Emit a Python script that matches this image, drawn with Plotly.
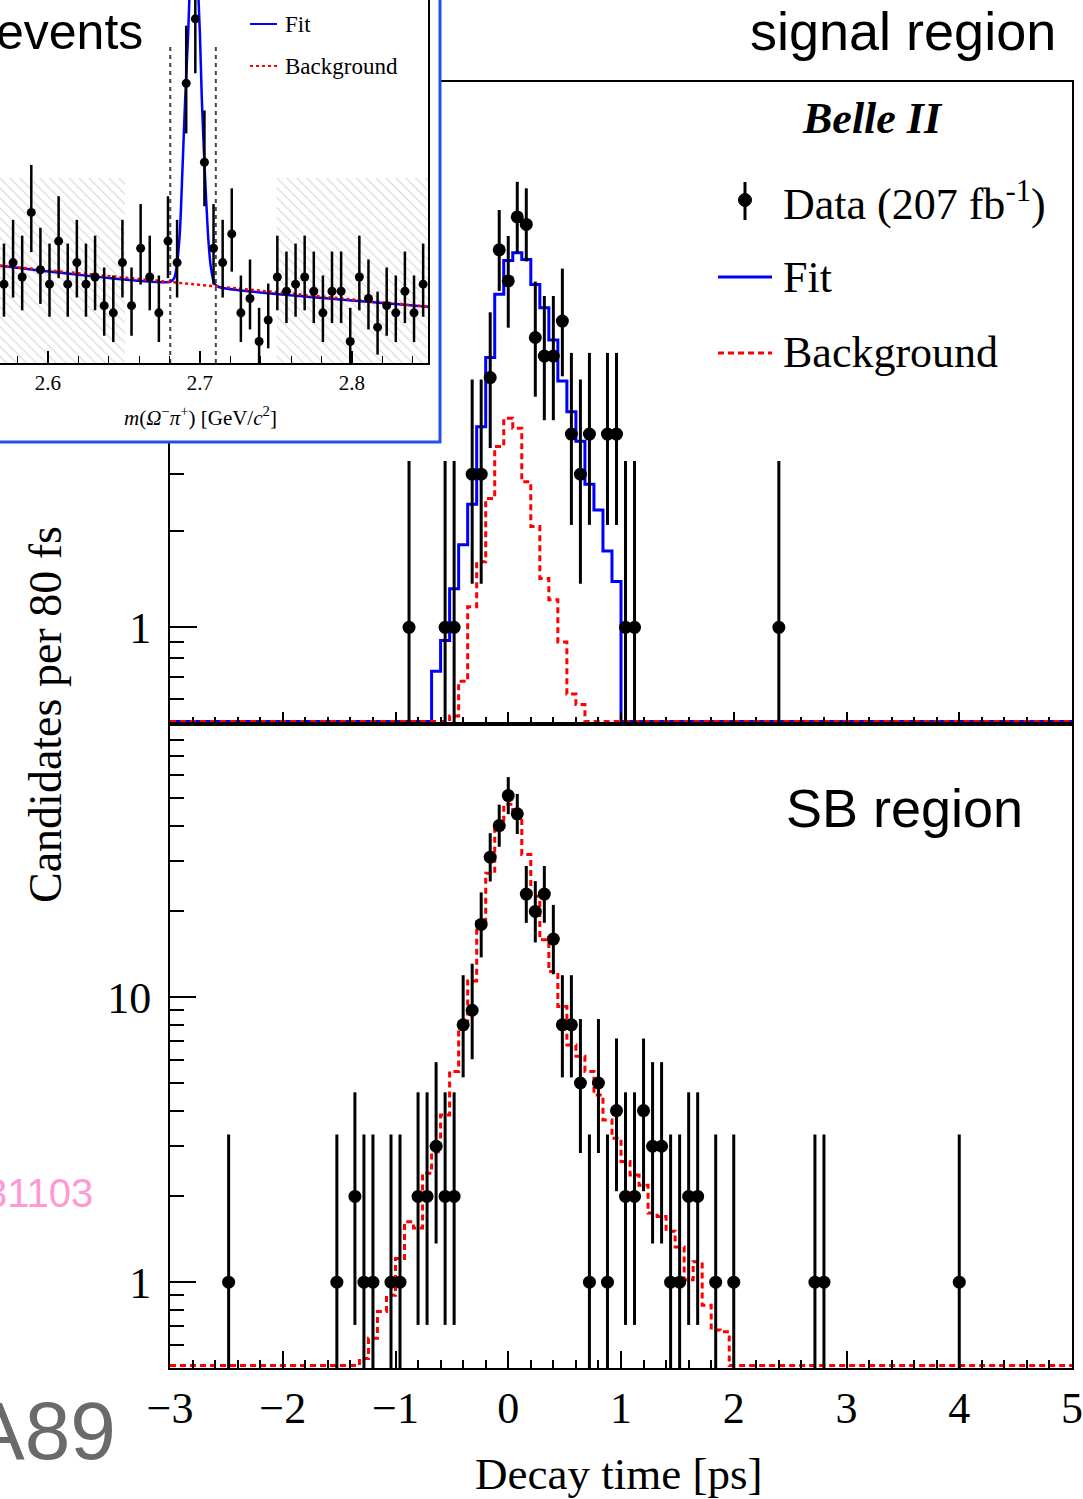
import math
import plotly.graph_objects as go

W, H = 1083, 1499

# ---------------- data: signal region (decay time bin centres [ps], candidates) ----------------
sig_time = [-0.88, -0.56, -0.48, -0.32, -0.24, -0.16, -0.08, 0.00, 0.08, 0.16, 0.24,
            0.32, 0.40, 0.48, 0.56, 0.64, 0.72, 0.88, 0.96, 1.04, 1.12, 2.40]
sig_counts = [1, 1, 1, 3, 3, 6, 15, 12, 19, 18, 8, 7, 7, 9, 4, 3, 4, 4, 4, 1, 1, 1]

# fit histogram (signal region)
fit_time = [-0.64, -0.56, -0.48, -0.40, -0.32, -0.24, -0.16, -0.08, 0.00, 0.08, 0.16,
            0.24, 0.32, 0.40, 0.48, 0.56, 0.64, 0.72, 0.80, 0.88, 0.96]
fit_vals = [0.73, 0.91, 1.32, 1.81, 2.42, 4.22, 6.93, 10.9, 13.9, 14.7, 14.0,
            11.7, 9.9, 7.85, 5.85, 4.70, 3.80, 2.79, 2.32, 1.73, 1.39]

# background histogram (signal region)
sigbkg_time = [-0.48, -0.40, -0.32, -0.24, -0.16, -0.08, 0.00, 0.08, 0.16, 0.24, 0.32,
               0.40, 0.48, 0.56, 0.64]
sigbkg_vals = [0.53, 0.68, 1.16, 1.60, 2.52, 3.66, 4.48, 4.17, 2.84, 2.06, 1.42,
               1.22, 0.90, 0.62, 0.575]

# ---------------- data: sideband region ----------------
sb_time = [-2.48, -1.52, -1.36, -1.28, -1.20, -1.04, -0.96, -0.80, -0.72, -0.64, -0.56,
           -0.48, -0.40, -0.32, -0.24, -0.16, -0.08, 0.00, 0.08, 0.16, 0.24, 0.32,
           0.40, 0.48, 0.56, 0.64, 0.72, 0.80, 0.88, 0.96, 1.04, 1.12, 1.20, 1.28,
           1.36, 1.44, 1.52, 1.60, 1.68, 1.84, 2.00, 2.72, 2.80, 4.00]
sb_counts = [1, 1, 2, 1, 1, 1, 1, 2, 2, 3, 2,
             2, 8, 9, 18, 31, 40, 51, 44, 23, 20, 23,
             16, 8, 8, 5, 1, 5, 1, 4, 2, 2, 4, 3,
             3, 1, 1, 2, 2, 1, 1, 1, 1, 1]

sbbkg_time = [-1.28, -1.20, -1.12, -1.04, -0.96, -0.88, -0.80, -0.72, -0.64, -0.56, -0.48,
              -0.40, -0.32, -0.24, -0.16, -0.08, 0.00, 0.08, 0.16, 0.24, 0.32, 0.40,
              0.48, 0.56, 0.64, 0.72, 0.80, 0.88, 0.96, 1.04, 1.12, 1.20, 1.28, 1.36,
              1.44, 1.52, 1.60, 1.68, 1.76, 1.84, 1.92]
sbbkg_vals = [0.54, 0.636, 0.79, 0.90, 1.21, 1.63, 1.55, 2.41, 2.87, 3.86, 5.49,
              7.87, 11.4, 18.4, 27.2, 39.4, 47.5, 42.8, 31.7, 22.6, 15.9, 12.3,
              9.28, 6.8, 6.2, 5.49, 4.54, 3.71, 3.2, 2.65, 2.38, 2.19, 1.75, 1.70,
              1.51, 1.33, 1.02, 1.18, 0.83, 0.68, 0.67]

# ---------------- inset: m(Omega- pi+) ----------------
inset_mass = [2.571, 2.577, 2.583, 2.589, 2.595, 2.601, 2.607, 2.613, 2.619, 2.625,
              2.631, 2.637, 2.643, 2.649, 2.655, 2.661, 2.667, 2.673, 2.679, 2.685,
              2.691, 2.697, 2.703, 2.709, 2.715, 2.721, 2.727, 2.733, 2.739, 2.745,
              2.751, 2.757, 2.763, 2.769, 2.775, 2.781, 2.787, 2.793, 2.799, 2.805,
              2.811, 2.817, 2.823, 2.829, 2.835, 2.841, 2.847]
inset_counts = [21, 24, 22, 31, 23, 21, 27, 21, 24, 21, 22, 18, 17, 24, 18, 26, 22, 17,
                27, 24, 49, 58, 38, 26, 24, 28, 17, 19, 13, 16, 22, 20, 21, 22, 20, 17,
                20, 20, 13, 22, 19, 15, 18, 17, 20, 17, 21]
inset_fit_mass = [2.5684, 2.6800, 2.6830, 2.6847, 2.6868, 2.6886, 2.6903, 2.6923, 2.6940,
                  2.6960, 2.6980, 2.7000, 2.7013, 2.7031, 2.7053, 2.7072, 2.7095, 2.7125, 2.8502]
inset_fit_vals = [23.57, 21.30, 21.8, 23.43, 28.09, 37.38, 46.68, 55.98, 66.0,
                  72.0, 66.0, 55.98, 46.68, 37.38, 28.09, 23.43, 21.1, 20.6, 17.85]
inset_bkg_mass = [2.5684, 2.8502]
inset_bkg_vals = [23.57, 17.85]
signal_window = [2.6805, 2.7105]
signal_window_top = 54.6
sideband_left = [2.55, 2.6507]
sideband_right = [2.7505, 2.8502]
sideband_top = 35.8

X_TICKS = [-3, -2, -1, 0, 1, 2, 3, 4, 5]
X_TICKTEXT = ["\u22123", "\u22122", "\u22121", "0", "1", "2", "3", "4", "5"]
BIN_W = 0.08
T_MIN, T_MAX = -3.0, 5.0

SERIF = "Liberation Serif"
SANS = "Liberation Sans"


def px(x):
    return x / W


def py(y):
    return 1 - y / H


def pois_cdf(n, mu):
    term = math.exp(-mu)
    s = term
    for k in range(1, n + 1):
        term *= mu / k
        s += term
    return s


def garwood(n, cl=0.682689):
    a = (1 - cl) / 2
    lo, hi = float(n), n + 10 * math.sqrt(n + 1) + 10
    for _ in range(80):
        mid = (lo + hi) / 2
        if pois_cdf(n, mid) > a:
            lo = mid
        else:
            hi = mid
    up = (lo + hi) / 2
    if n == 0:
        low = 0.0
    else:
        lo, hi = 0.0, float(n)
        for _ in range(80):
            mid = (lo + hi) / 2
            if pois_cdf(n - 1, mid) > 1 - a:
                lo = mid
            else:
                hi = mid
        low = (lo + hi) / 2
    return low, up


def errs(counts):
    plus, minus = [], []
    for n in counts:
        lo, up = garwood(n)
        plus.append(up - n)
        minus.append(n - lo)
    return plus, minus


def step_arrays(times, vals, floor):
    nb = int(round((T_MAX - T_MIN) / BIN_W))
    lookup = {round(t, 2): v for t, v in zip(times, vals)}
    xs, ys = [], []
    for i in range(nb):
        c = round(T_MIN + BIN_W * (i + 0.5), 2)
        v = lookup.get(c, 0.0)
        xs.append(T_MIN + BIN_W * i)
        ys.append(max(v, floor))
    xs.append(T_MAX)
    ys.append(ys[-1])
    return xs, ys


# panel geometry (pixels)
L, R = 170, 1072
TOP1, BOT1 = 82, 724
TOP2, BOT2 = 724, 1368
top_range = [math.log10(0.5), math.log10(50)]
bot_range = [math.log10(0.5), math.log10(0.5) + (BOT2 - TOP2) / 285.0]

floor1 = 10 ** (top_range[0] + 2.5 * (top_range[1] - top_range[0]) / (BOT1 - TOP1))
floor2 = 10 ** (bot_range[0] + 2.5 * (bot_range[1] - bot_range[0]) / (BOT2 - TOP2))

fig = go.Figure()

# ---- top panel: signal region ----
fx, fy = step_arrays(fit_time, fit_vals, floor1)
fig.add_trace(go.Scatter(x=fx, y=fy, mode="lines", line=dict(color="#0000ff", width=3, shape="hv"),
                         xaxis="x", yaxis="y", showlegend=False, hoverinfo="skip"))
bx, by = step_arrays(sigbkg_time, sigbkg_vals, floor1)
fig.add_trace(go.Scatter(x=bx, y=by, mode="lines",
                         line=dict(color="#ff0000", width=3, shape="hv", dash="6px,4px"),
                         xaxis="x", yaxis="y", showlegend=False, hoverinfo="skip"))
ep, em = errs(sig_counts)
fig.add_trace(go.Scatter(x=sig_time, y=sig_counts, mode="markers",
                         marker=dict(color="black", size=13),
                         error_y=dict(type="data", symmetric=False, array=ep, arrayminus=em,
                                      color="black", thickness=3, width=0),
                         xaxis="x", yaxis="y", showlegend=False))

# ---- bottom panel: sideband region ----
sx, sy = step_arrays(sbbkg_time, sbbkg_vals, floor2)
fig.add_trace(go.Scatter(x=sx, y=sy, mode="lines",
                         line=dict(color="#ff0000", width=3, shape="hv", dash="6px,4px"),
                         xaxis="x2", yaxis="y2", showlegend=False, hoverinfo="skip"))
ep2, em2 = errs(sb_counts)
fig.add_trace(go.Scatter(x=sb_time, y=sb_counts, mode="markers",
                         marker=dict(color="black", size=13),
                         error_y=dict(type="data", symmetric=False, array=ep2, arrayminus=em2,
                                      color="black", thickness=3, width=0),
                         xaxis="x2", yaxis="y2", showlegend=False))

# ---- cover subplot (white box behind inset) ----
fig.add_trace(go.Scatter(x=[], y=[], xaxis="x3", yaxis="y3", showlegend=False, hoverinfo="skip"))

# ---- inset ----
inset_y_range = [10, 10 + 363 / 7.17]
for sb in (sideband_left, sideband_right):
    fig.add_trace(go.Scatter(x=[sb[0], sb[1], sb[1], sb[0], sb[0]],
                             y=[inset_y_range[0], inset_y_range[0], sideband_top, sideband_top, inset_y_range[0]],
                             mode="lines", fill="toself", line=dict(width=0),
                             fillcolor="rgba(0,0,0,0)",
                             fillpattern=dict(shape="\\", fgcolor="#d4d4d4", bgcolor="white", size=7, solidity=0.15),
                             xaxis="x4", yaxis="y4", showlegend=False, hoverinfo="skip"))
for m in signal_window:
    fig.add_trace(go.Scatter(x=[m, m], y=[inset_y_range[0], signal_window_top], mode="lines",
                             line=dict(color="#444444", width=2, dash="4px,4px"),
                             xaxis="x4", yaxis="y4", showlegend=False, hoverinfo="skip"))
fig.add_trace(go.Scatter(x=inset_fit_mass, y=inset_fit_vals, mode="lines",
                         line=dict(color="#0000ff", width=2.5, shape="spline", smoothing=0.6),
                         xaxis="x4", yaxis="y4", showlegend=False, hoverinfo="skip"))
fig.add_trace(go.Scatter(x=inset_bkg_mass, y=inset_bkg_vals, mode="lines",
                         line=dict(color="#ff0000", width=2.5, dash="dot"),
                         xaxis="x4", yaxis="y4", showlegend=False, hoverinfo="skip"))
ip, im = errs(inset_counts)
fig.add_trace(go.Scatter(x=inset_mass, y=inset_counts, mode="markers",
                         marker=dict(color="black", size=9),
                         error_y=dict(type="data", symmetric=False, array=ip, arrayminus=im,
                                      color="black", thickness=2.5, width=0),
                         xaxis="x4", yaxis="y4", showlegend=False))

axis_common = dict(showgrid=False, zeroline=False, showline=True, linecolor="black", linewidth=2)

fig.update_layout(
    width=W, height=H, autosize=False,
    margin=dict(l=0, r=0, t=0, b=0),
    paper_bgcolor="white", plot_bgcolor="white",
    template=None,
    xaxis=dict(domain=[px(L), px(R)], anchor="y", range=[T_MIN, T_MAX], mirror=True,
               ticks="inside", ticklen=12, tickwidth=2, tickcolor="black",
               tickvals=X_TICKS, showticklabels=False,
               minor=dict(ticks="inside", dtick=0.2, tick0=0, ticklen=7, tickwidth=1.5, tickcolor="black"),
               **axis_common),
    yaxis=dict(domain=[py(BOT1), py(TOP1)], anchor="x", type="log", range=top_range, mirror=True,
               ticks="inside", ticklen=27, tickwidth=2, tickcolor="black",
               tickvals=[1, 10], ticktext=["1", "10"],
               tickfont=dict(family=SERIF, size=44, color="black"), ticklabelstandoff=8,
               minor=dict(ticks="inside", tickvals=[0.6, 0.7, 0.8, 0.9, 2, 3, 4, 5, 6, 7, 8, 9, 20, 30, 40, 50],
                          ticklen=14, tickwidth=1.5, tickcolor="black"),
               **axis_common),
    xaxis2=dict(domain=[px(L), px(R)], anchor="y2", range=[T_MIN, T_MAX], mirror=True,
                ticks="inside", ticklen=17, tickwidth=2, tickcolor="black",
                tickvals=X_TICKS, ticktext=X_TICKTEXT,
                tickfont=dict(family=SERIF, size=44, color="black"), ticklabelstandoff=0,
                minor=dict(ticks="inside", dtick=0.2, tick0=0, ticklen=8, tickwidth=1.5, tickcolor="black"),
                **axis_common),
    yaxis2=dict(domain=[py(BOT2), py(TOP2)], anchor="x2", type="log", range=bot_range, mirror=True,
                ticks="inside", ticklen=26, tickwidth=2, tickcolor="black",
                tickvals=[1, 10], ticktext=["1", "10"],
                tickfont=dict(family=SERIF, size=44, color="black"), ticklabelstandoff=8,
                minor=dict(ticks="inside",
                           tickvals=[0.6, 0.7, 0.8, 0.9, 2, 3, 4, 5, 6, 7, 8, 9, 20, 30, 40, 50, 60, 70, 80, 90],
                           ticklen=14, tickwidth=1.5, tickcolor="black"),
                **axis_common),
    xaxis3=dict(domain=[0, px(440)], anchor="y3", visible=False, range=[0, 1]),
    yaxis3=dict(domain=[py(442), 1], anchor="x3", visible=False, range=[0, 1]),
    xaxis4=dict(domain=[0, px(428)], anchor="y4", range=[2.5684, 2.8502],
                ticks="inside", ticklen=12, tickwidth=1.5, tickcolor="black",
                tickvals=[2.6, 2.7, 2.8], ticktext=["2.6", "2.7", "2.8"],
                tickfont=dict(family=SERIF, size=21, color="black"), ticklabelstandoff=0,
                minor=dict(ticks="inside", dtick=0.02, tick0=2.6, ticklen=7, tickwidth=1.2, tickcolor="black"),
                **axis_common),
    yaxis4=dict(domain=[py(363), 1], anchor="x4", range=inset_y_range, side="right",
                ticks="", showticklabels=False, **axis_common),
)

shapes = []
# inset border
shapes.append(dict(type="rect", xref="paper", yref="paper", x0=px(-5), x1=px(440), y0=py(442), y1=py(-5),
                   line=dict(color="#2250e8", width=3), fillcolor="rgba(0,0,0,0)", layer="above"))
# inset legend lines
shapes.append(dict(type="line", xref="paper", yref="paper", x0=px(250), x1=px(277), y0=py(24), y1=py(24),
                   line=dict(color="#0000ff", width=2)))
shapes.append(dict(type="line", xref="paper", yref="paper", x0=px(250), x1=px(277), y0=py(66), y1=py(66),
                   line=dict(color="#ff0000", width=2, dash="dot")))
# main legend
shapes.append(dict(type="line", xref="paper", yref="paper", x0=px(745), x1=px(745), y0=py(182), y1=py(220),
                   line=dict(color="black", width=3)))
shapes.append(dict(type="circle", xref="paper", yref="paper", x0=px(738.5), x1=px(751.5), y0=py(206.5), y1=py(193.5),
                   line=dict(color="black", width=1), fillcolor="black"))
shapes.append(dict(type="line", xref="paper", yref="paper", x0=px(718), x1=px(772), y0=py(277), y1=py(277),
                   line=dict(color="#0000ff", width=3)))
shapes.append(dict(type="line", xref="paper", yref="paper", x0=px(718), x1=px(772), y0=py(353), y1=py(353),
                   line=dict(color="#ff0000", width=3, dash="6px,4px")))
fig.update_layout(shapes=shapes)

ann = []


def add_text(text, x, y, size, family=SERIF, color="black", xanchor="left", yanchor="middle", angle=0):
    ann.append(dict(text=text, x=px(x), y=py(y), xref="paper", yref="paper", showarrow=False,
                    xanchor=xanchor, yanchor=yanchor, textangle=angle,
                    font=dict(family=family, size=size, color=color)))


add_text("<b><i>Belle II</i></b>", 872, 118, 44, xanchor="center")
add_text("Data (207 fb<sup>-1</sup>)", 781, 201, 44)
add_text("Fit", 781, 277, 44)
add_text("Background", 781, 353, 44)
add_text("Candidates per 80 fs", 45, 715, 46, xanchor="center", angle=-90)
add_text("Decay time [ps]", 618, 1474, 45, xanchor="center")
add_text("signal region", 1058, 31, 54, family=SANS, xanchor="right")
add_text("SB region", 1025, 808, 54, family=SANS, xanchor="right")
add_text("events", 145, 32, 50, family=SANS, xanchor="right")
add_text("31103", 95, 1193, 40, family=SANS, color="#ff99d6", xanchor="right")
add_text("A89", 118, 1430, 82, family=SANS, color="#6a6a6a", xanchor="right")
# inset texts
add_text("Fit", 283, 25, 23)
add_text("Background", 283, 67, 23)
add_text("<i>m</i>(<i>\u03a9</i><sup>\u2212</sup><i>\u03c0</i><sup>+</sup>) [GeV/<i>c</i><sup>2</sup>]",
         200, 416, 21, xanchor="center")
fig.update_layout(annotations=ann)

fig.write_html("out.html")
